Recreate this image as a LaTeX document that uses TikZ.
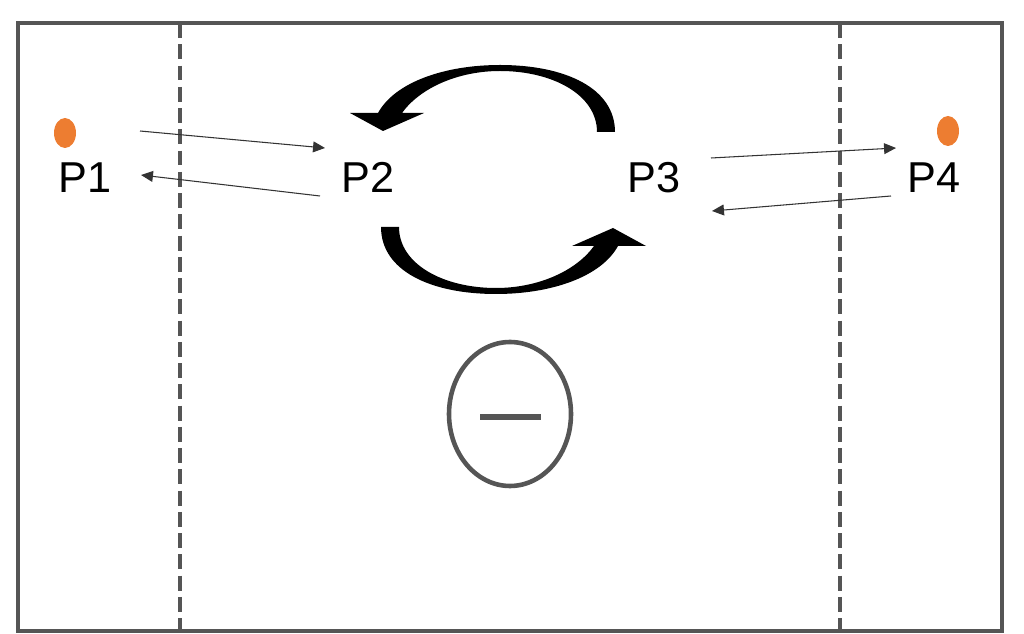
\documentclass[tikz,border=0pt]{standalone}
\usepackage{fontspec}
\setmainfont{Liberation Sans}
\usetikzlibrary{arrows.meta,calc}
\definecolor{rimgray}{RGB}{85,85,85}
\definecolor{ballorange}{RGB}{237,125,49}
\tikzset{
  rim/.style={draw=rimgray, line width=2.8pt},
  zoneline/.style={draw=rimgray, line width=2.3pt, dash pattern=on 8.5pt off 3.6pt},
  player/.style={anchor=base, inner sep=0pt, font=\fontsize{24.6}{29}\selectfont},
  pass/.style={draw=black!80, line width=0.6pt, -{Triangle[length=6.8pt,width=6.2pt]}},
  ballspot/.style={fill=ballorange},
  swing/.style={fill=black}
}

\begin{document}
\begin{tikzpicture}[x=0.02cm,y=-0.02cm]
      \useasboundingbox (0,0) rectangle (1024,634);

      % First draw the field and the two zone lines.
      \draw[rim] (18,23) rectangle (1002,631);
      \draw[zoneline] (180,23) -- (180,631);
      \draw[zoneline] (840,23) -- (840,631);

      % Players.
      \node[player] (p1) at (85,193) {P1};
      \node[player] (p2) at (368,193) {P2};
      \node[player] (p3) at (654,193) {P3};
      \node[player] (p4) at (934,193) {P4};

      % Balls at the outer players.
      \fill[ballspot] (65,133) ellipse [x radius=11, y radius=15];
      \fill[ballspot] (948,131) ellipse [x radius=11, y radius=15];

      % Passes between outer and inner players.
      \coordinate (p1out) at (140,131);
      \coordinate (p2in) at (325,148);
      \coordinate (p2out) at (320,196);
      \coordinate (p1in) at (141,175);
      \coordinate (p3out) at (711,158);
      \coordinate (p4in) at (896,148);
      \coordinate (p4out) at (891,196);
      \coordinate (p3in) at (712,211);
      \draw[pass] (p1out) -- (p2in);
      \draw[pass] (p2out) -- (p1in);
      \draw[pass] (p3out) -- (p4in);
      \draw[pass] (p4out) -- (p3in);

      % Rotation between P2 and P3.
      \fill[swing] (615,132) .. controls (615,88) and (565,65) .. (500,65)
        .. controls (445,65) and (395,82) .. (378,113)
        -- (350,113) -- (383,131) -- (424,113) -- (402,113)
        .. controls (420,88) and (458,71) .. (500,71)
        .. controls (553,71) and (597,95) .. (597,132) -- cycle;
      \fill[swing,rotate around={180:(498,179.5)}] (615,132) .. controls (615,88) and (565,65) .. (500,65)
        .. controls (445,65) and (395,82) .. (378,113)
        -- (350,113) -- (383,131) -- (424,113) -- (402,113)
        .. controls (420,88) and (458,71) .. (500,71)
        .. controls (553,71) and (597,95) .. (597,132) -- cycle;

      % Minus sign in the oval.
      \draw[rimgray,line width=2.6pt] (510,414) ellipse [x radius=61, y radius=72];
      \draw[rimgray,line width=3pt] (480,417) -- (541,417);

\end{tikzpicture}
\end{document}
